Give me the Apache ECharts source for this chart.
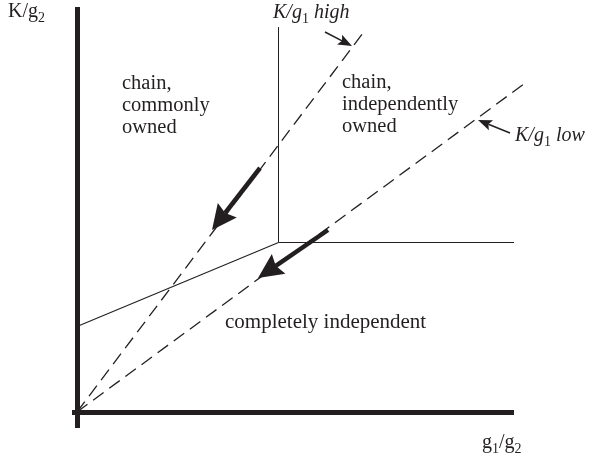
<!DOCTYPE html>
<html>
<head>
<meta charset="utf-8">
<script src="https://cdn.jsdelivr.net/npm/echarts@6/dist/echarts.min.js"></script>
<style>html,body{margin:0;padding:0;background:#fff}#c{width:592px;height:456px}</style>
</head>
<body>
<div id="c"></div>
<script>
// Diagram geometry in data units (1 unit = 1 px, origin at the axes' corner)
const yAxisLine = [[0.5, -16], [0.5, 405]];
const xAxisLine = [[-5, -0.5], [437, -0.5]];
const chainVertical = [[201.5, 169.5], [201.5, 385]];
const chainHorizontal = [[201.5, 169.5], [437, 169.5]];
const lowerBoundary = [[0, 85.5], [201.5, 169.5]];
const rayHigh = [[0, 0], [289, 383]];
const rayLow = [[0, 0], [451, 331]];
// arrows: [tailX, tailY, tipX, tipY]
const shiftArrows = [[183, 244, 135, 182], [251, 182, 181, 134]];
const pointerArrows = [[248, 380, 275, 366], [433, 279, 401, 292]];

const FF = '"Liberation Serif", "Times New Roman", serif';
const INK = '#231f20';

function seg(data, width, type) {
  return {
    type: 'line', data: data, symbol: 'none', silent: true, animation: false,
    lineStyle: { color: INK, width: width, type: type || 'solid', cap: 'butt' }
  };
}
function arrowSeries(data, shaftWidth, headLen, headWidth, notch) {
  return {
    type: 'custom', silent: true, animation: false, clip: false,
    encode: { x: [0, 2], y: [1, 3] },
    data: data,
    renderItem: function (params, api) {
      const a = api.coord([api.value(0), api.value(1)]);
      const b = api.coord([api.value(2), api.value(3)]);
      const dx = b[0] - a[0], dy = b[1] - a[1];
      const L = Math.sqrt(dx * dx + dy * dy);
      const ux = dx / L, uy = dy / L, px = -uy, py = ux;
      const bx = b[0] - ux * headLen, by = b[1] - uy * headLen;
      const nx = b[0] - ux * headLen * notch, ny = b[1] - uy * headLen * notch;
      return {
        type: 'group',
        children: [
          { type: 'line', shape: { x1: a[0], y1: a[1], x2: nx, y2: ny },
            style: { stroke: INK, lineWidth: shaftWidth } },
          { type: 'polygon', shape: { points: [
              [b[0], b[1]],
              [bx + px * headWidth / 2, by + py * headWidth / 2],
              [nx, ny],
              [bx - px * headWidth / 2, by - py * headWidth / 2]] },
            style: { fill: INK } }
        ]
      };
    }
  };
}

const chart = echarts.init(document.getElementById('c'), null, { renderer: 'canvas' });
chart.setOption({
  animation: false,
  grid: { left: 0, right: 0, top: 0, bottom: 0 },
  xAxis: { type: 'value', min: -77, max: 515, show: false },
  yAxis: { type: 'value', min: -44, max: 412, show: false },
  series: [
    seg(chainVertical, 1),
    seg(chainHorizontal, 1),
    seg(lowerBoundary, 1.1),
    seg(rayHigh, 1.3, [13, 7]),
    seg(rayLow, 1.3, [13, 7]),
    seg(yAxisLine, 5),
    seg(xAxisLine, 5),
    arrowSeries(shiftArrows, 4.5, 25, 24, 0.86),
    arrowSeries(pointerArrows, 1.5, 14, 11, 0.8)
  ],
  graphic: [
    { type: 'text', x: 122, y: 72.5, silent: true, style: { text: 'chain,\ncommonly\nowned', fontFamily: FF, fontSize: 20.5, lineHeight: 22, fill: INK } },
    { type: 'text', x: 342, y: 71.5, silent: true, style: { text: 'chain,\nindependently\nowned', fontFamily: FF, fontSize: 20.5, lineHeight: 22, fill: INK } },
    { type: 'text', x: 225, y: 311, silent: true, style: { text: 'completely independent', fontFamily: FF, fontSize: 21, lineHeight: 22, fill: INK } },
    { type: 'text', x: 8, y: -2.5, silent: true, style: { text: '{a|K/g}{b|2}', fill: INK,
      rich: { a: { fontFamily: FF, fontSize: 20 }, b: { fontFamily: FF, fontSize: 14, padding: [14, 0, 0, 0] } } } },
    { type: 'text', x: 482, y: 428.5, silent: true, style: { text: '{a|g}{b|1}{a|/g}{b|2}', fill: INK,
      rich: { a: { fontFamily: FF, fontSize: 20 }, b: { fontFamily: FF, fontSize: 14, padding: [14, 0, 0, 0] } } } },
    { type: 'text', x: 273, y: -1.5, silent: true, style: { text: '{a|K/g}{b|1}{a| high}', fill: INK,
      rich: { a: { fontFamily: FF, fontSize: 20, fontStyle: 'italic' }, b: { fontFamily: FF, fontSize: 14, padding: [14, 0, 0, 0] } } } },
    { type: 'text', x: 515, y: 121.5, silent: true, style: { text: '{a|K/g}{b|1}{a| low}', fill: INK,
      rich: { a: { fontFamily: FF, fontSize: 20, fontStyle: 'italic' }, b: { fontFamily: FF, fontSize: 14, padding: [14, 0, 0, 0] } } } }
  ]
});
</script>
</body>
</html>
